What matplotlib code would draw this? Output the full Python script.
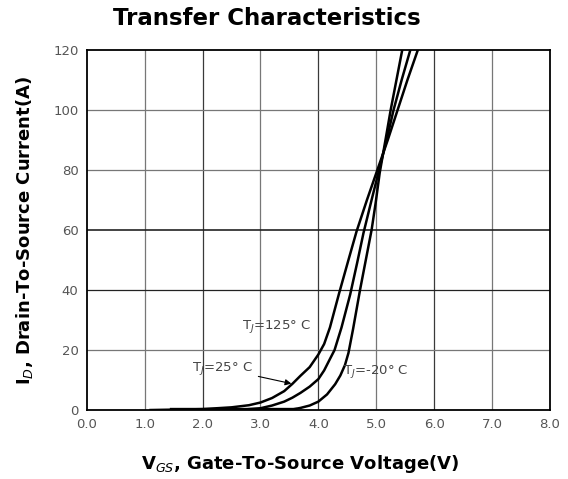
import matplotlib.pyplot as plt

# gate voltage (V) and drain current (A) for each junction temperature
vgs_m20 = [3.5, 3.69, 3.85, 4.0, 4.15, 4.29, 4.38, 4.46, 4.52, 4.6, 4.72, 4.83, 4.92, 4.99, 5.06, 5.16, 5.25, 5.35, 5.45, 5.5]
id_m20 = [0, 0.7, 1.5, 2.8, 5.2, 8.6, 11.5, 15, 19, 27, 40, 51, 60, 69, 79, 90, 100, 110, 120, 125]

vgs_25 = [2.6, 3.0, 3.2, 3.41, 3.55, 3.69, 3.85, 4.0, 4.1, 4.2, 4.28, 4.4, 4.55, 4.67, 4.78, 4.92, 5.05, 5.18, 5.30, 5.44, 5.59, 5.63]
id_25 = [0, 0.6, 1.5, 2.8, 4.1, 5.7, 7.8, 10.3, 13.2, 17, 20, 27.5, 38.5, 49, 59, 70, 80, 90, 100, 110, 120, 123]

vgs_125 = [1.1, 2.0, 2.5, 2.8, 3.0, 3.2, 3.41, 3.55, 3.69, 3.85, 4.0, 4.1, 4.2, 4.36, 4.52, 4.66, 4.84, 5.02, 5.2, 5.37, 5.54, 5.72, 5.76]
id_125 = [0, 0.3, 0.9, 1.6, 2.5, 4.0, 6.3, 8.7, 11.4, 14.3, 18.5, 22, 27.5, 39, 50, 59.5, 70, 80, 90, 100, 110, 120, 122]

# flat part of the curves before the gate threshold
vgs_off = [1.45, 3.6]
id_off = [0.3, 0.3]

xticks = [0, 1, 2, 3, 4, 5, 6, 7, 8]
yticks = [0, 20, 40, 60, 80, 100, 120]

fig = plt.figure(figsize=(5.68, 4.79), dpi=100)
ax = fig.add_axes([0.153, 0.144, 0.815, 0.752])

for x in xticks[1:-1]:
    ax.axvline(x, color='#3a3a3a' if x % 2 == 0 else '#777777', lw=0.9, zorder=1)
for y in yticks[1:-1]:
    ax.axhline(y, color='#222222' if y in (40, 60) else '#777777',
               lw=1.2 if y == 60 else 0.9, zorder=1)

for xs, ys in [(vgs_m20, id_m20), (vgs_25, id_25), (vgs_125, id_125)]:
    ax.plot(xs, ys, color='black', lw=1.8, zorder=3, solid_joinstyle='round')
ax.plot(vgs_off, id_off, color='black', lw=2.4, zorder=3)

ax.set_xlim(0, 8)
ax.set_ylim(0, 120)
ax.set_xticks(xticks)
ax.set_xticklabels([f'{x:.1f}' for x in xticks])
ax.set_yticks(yticks)
ax.tick_params(length=0, labelsize=9.5, labelcolor='#555555', pad=6)
for s in ax.spines.values():
    s.set_linewidth(1.3)
    s.set_color('black')

lbl = dict(fontsize=9.5, color='#444444', zorder=4)
ax.text(2.68, 27, r'T$_J$=125° C', **lbl)
ax.text(4.42, 12, r'T$_J$=-20° C', **lbl)
ax.annotate(r'T$_J$=25° C', xy=(3.58, 8.6), xytext=(1.82, 13),
            arrowprops=dict(arrowstyle='-|>', color='black', lw=0.8, mutation_scale=9),
            **lbl)

fig.text(0.47, 0.962, 'Transfer Characteristics', ha='center', va='center',
         fontsize=16.5, fontweight='bold')
ax.set_xlabel(r'V$_{GS}$, Gate-To-Source Voltage(V)', fontsize=13, fontweight='bold')
ax.set_ylabel(r'I$_D$, Drain-To-Source Current(A)', fontsize=13, fontweight='bold')
ax.xaxis.set_label_coords(0.46, -0.12)
ax.yaxis.set_label_coords(-0.112, 0.5)

fig.savefig('out.png', dpi=100)
